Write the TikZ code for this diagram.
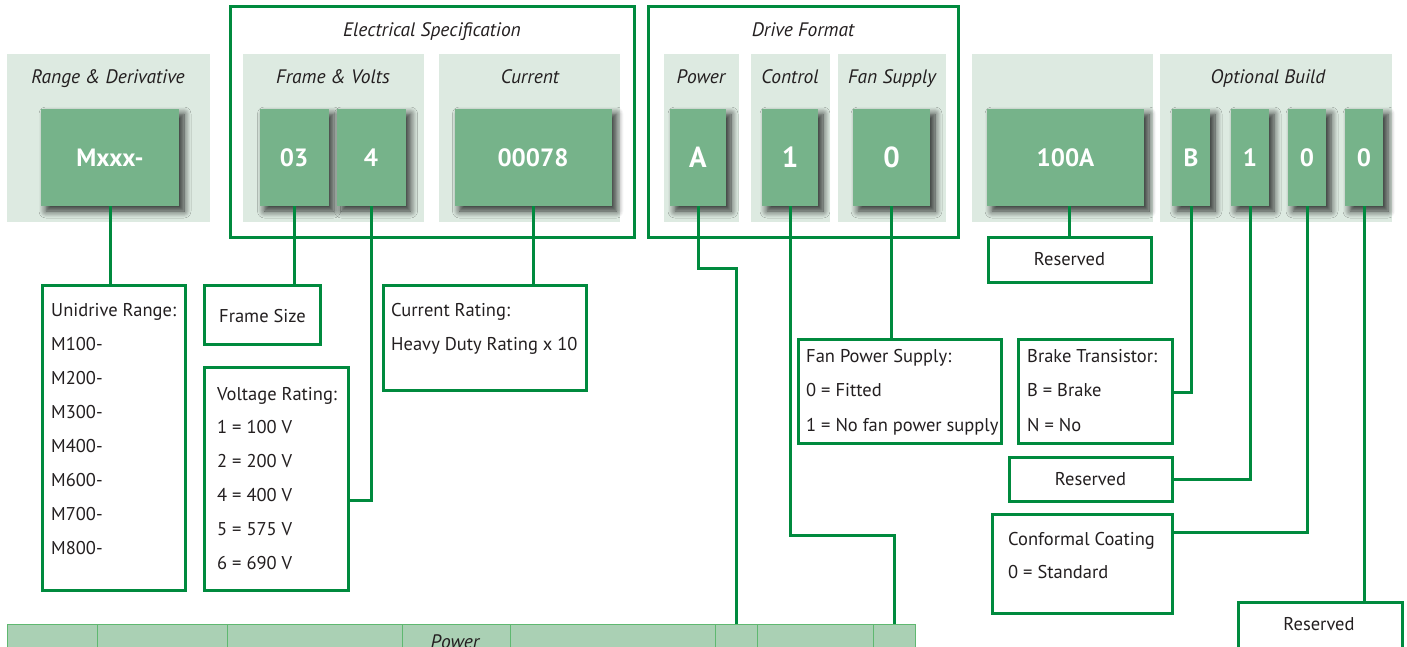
\documentclass[tikz,border=0pt]{standalone}
\usepackage{fontspec}
\setmainfont{PT Sans}
\usepackage{tikz}
\usetikzlibrary{shadows.blur}

\definecolor{panelbg}{RGB}{221,234,225}
\definecolor{codegreen}{RGB}{118,179,138}
\definecolor{linegreen}{RGB}{0,138,62}
\definecolor{tablebg}{RGB}{170,208,180}
\definecolor{tableline}{RGB}{95,184,112}
\definecolor{inkgray}{RGB}{35,31,32}

\begin{document}
\begin{tikzpicture}[x=1pt,y=-1pt,
    group box/.style={draw=linegreen,line width=3pt},
    code node/.style={fill=codegreen,text=white,inner sep=0pt,minimum height=97,
      font=\fontsize{25}{25}\selectfont\bfseries,
      blur shadow={shadow xshift=5pt,shadow yshift=-5pt,shadow blur radius=7pt,
        shadow blur steps=8,shadow opacity=80}},
    big code/.style={code node,font=\fontsize{29}{29}\selectfont\bfseries},
    head/.style={anchor=base,font=\fontsize{19.5}{19.5}\selectfont\itshape,text=inkgray,inner sep=0pt},
    desc box/.style={draw=linegreen,line width=3pt,fill=white,inner sep=0pt,
      font=\fontsize{18.5}{18.5}\selectfont,text=inkgray},
    desc text/.style={anchor=base west,font=\fontsize{18.5}{18.5}\selectfont,text=inkgray,inner sep=0pt},
    cell/.style={draw=tableline,line width=1pt,fill=tablebg,inner sep=0pt,minimum height=36},
    link/.style={draw=linegreen,line width=3pt}]

  \useasboundingbox (0,0) rectangle (1407,646);
  \clip (0,0) rectangle (1407,646);

  % group frames
  \draw[group box] (230,6) rectangle (634,237);
  \draw[group box] (648,6) rectangle (958,237);
  \node[head] (helec) at (432,36) {Electrical Specification};
  \node[head] (hdrive) at (803,36) {Drive Format};

  % light panels
  \fill[panelbg] (7,54) rectangle (210,222);
  \fill[panelbg] (243,54) rectangle (424,222);
  \fill[panelbg] (439,54) rectangle (620,222);
  \fill[panelbg] (664,54) rectangle (739,222);
  \fill[panelbg] (751,54) rectangle (830,222);
  \fill[panelbg] (838,54) rectangle (946,222);
  \fill[panelbg] (972,54) rectangle (1153,222);
  \fill[panelbg] (1160,54) rectangle (1392,222);

  \node[head] (hrange) at (108,83) {Range \& Derivative};
  \node[head] (hframe) at (333,83) {Frame \& Volts};
  \node[head] (hcurr) at (530,83) {Current};
  \node[head] (hpower) at (701,83) {Power};
  \node[head] (hctrl) at (790,83) {Control};
  \node[head] (hfan) at (892,83) {Fan Supply};
  \node[head] (hopt) at (1268,83) {Optional Build};

  % code boxes
  \node[code node,minimum width=138] (mxxx) at (110,157.5) {Mxxx-};
  \node[code node,minimum width=69] (frame) at (294,157.5) {03};
  \node[code node,minimum width=69] (volts) at (371,157.5) {4};
  \node[code node,minimum width=157] (curr) at (533,157.5) {00078};
  \node[big code,minimum width=56] (pwr) at (698,157.5) {A};
  \node[big code,minimum width=56] (ctl) at (790,157.5) {1};
  \node[big code,minimum width=77] (fan) at (891.5,157.5) {0};
  \node[code node,minimum width=157] (hundred) at (1065.5,157.5) {100A};
  \node[code node,minimum width=38] (optb) at (1191,157.5) {B};
  \node[code node,minimum width=38] (opt1) at (1250,157.5) {1};
  \node[code node,minimum width=38] (opt2) at (1307,157.5) {0};
  \node[code node,minimum width=38] (opt3) at (1364,157.5) {0};

  % description boxes
  \node[desc box,minimum width=143,minimum height=305] (rangebox) at (113.5,437.5) {};
  \foreach \t [count=\i from 0] in {Unidrive Range:,M100-,M200-,M300-,M400-,M600-,M700-,M800-}
    \node[desc text] (range-\i) at (51,316+34*\i) {\t};

  \node[desc box,minimum width=116,minimum height=59] (framebox) at (262,314.5) {};
  \node[desc text] (frame-0) at (219,322) {Frame Size};

  \node[desc box,minimum width=144,minimum height=223] (voltbox) at (276,478.5) {};
  \foreach \t [count=\i from 0] in {Voltage Rating:,1 = 100 V,2 = 200 V,4 = 400 V,5 = 575 V,6 = 690 V}
    \node[desc text] (volt-\i) at (217,400+33.8*\i) {\t};

  \node[desc box,minimum width=203,minimum height=105] (currbox) at (484.5,337.5) {};
  \node[desc text] (curr-0) at (391,316) {Current Rating:};
  \node[desc text] (curr-1) at (391,350) {Heavy Duty Rating x 10};

  \node[desc box,minimum width=203,minimum height=104] (fanbox) at (899.5,391) {};
  \foreach \t [count=\i from 0] in {Fan Power Supply:,0 = Fitted,1 = No fan power supply}
    \node[desc text] (fan-\i) at (806,362+34.5*\i) {\t};

  \node[desc box,minimum width=154,minimum height=104] (brakebox) at (1095,391) {};
  \foreach \t [count=\i from 0] in {Brake Transistor:,B = Brake,N = No}
    \node[desc text] (brake-\i) at (1027,362+34.5*\i) {\t};

  \node[desc box,minimum width=163,minimum height=45] (rsvA) at (1069.5,259.5) {Reserved};
  \node[desc box,minimum width=163,minimum height=44] (rsvB) at (1090.5,479) {Reserved};

  \node[desc box,minimum width=180,minimum height=99] (coatbox) at (1082,563.5) {};
  \node[desc text] (coat-0) at (1008,545) {Conformal Coating};
  \node[desc text] (coat-1) at (1008,578) {0 = Standard};

  \node[desc box,minimum width=164,minimum height=60] (rsvC) at (1320,632) {};
  \node[desc text,anchor=base] (rsvC-t) at (1319,630) {Reserved};

  % table strip at the bottom
  \foreach \a/\b [count=\i] in {7/97,97/227,227/402,402/510,510/715,715/757,757/873,873/915}
    \node[cell,minimum width=\b-\a] (cell\i) at ({(\a+\b)/2},642) {};
  \node[head] (tpower) at (455,648) {Power};

  % connectors
  \draw[link] (mxxx.south) -- (mxxx.south |- rangebox.north);
  \draw[link] (frame.south) -- (frame.south |- framebox.north);
  \draw[link] (volts.south) |- (voltbox.east |- 0,500);
  \draw[link] (curr.south) -- (curr.south |- currbox.north);
  \draw[link] (pwr.south) -- ++(0,62) -| (cell6.north);
  \draw[link] (ctl.south) -- (790,535) -| (cell8.north);
  \draw[link] (fan.south) -- (fan.south |- fanbox.north);
  \draw[link] (rsvA.north) -- (rsvA.north |- hundred.south);
  \draw[link] (optb.south) |- (brakebox.east |- 0,392);
  \draw[link] (opt1.south) |- (rsvB.east);
  \draw[link] (opt2.south) |- (coatbox.east |- 0,532);
  \draw[link] (opt3.south) -- (opt3.south |- rsvC.north);
\end{tikzpicture}
\end{document}
